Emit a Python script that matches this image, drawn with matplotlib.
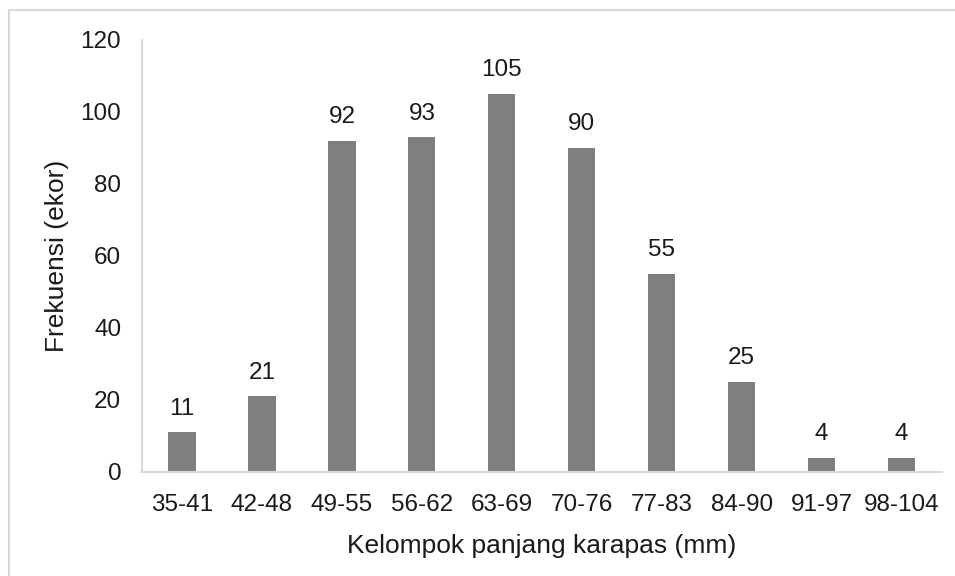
import matplotlib
matplotlib.use('Agg')
import matplotlib.pyplot as plt
from matplotlib.patches import Rectangle

kelompok = ['35-41', '42-48', '49-55', '56-62', '63-69',
            '70-76', '77-83', '84-90', '91-97', '98-104']
frekuensi = [11, 21, 92, 93, 105, 90, 55, 25, 4, 4]

plt.rcParams['font.family'] = ['Liberation Sans', 'DejaVu Sans']

fig = plt.figure(figsize=(9.55, 5.76), dpi=100)
ax = fig.add_axes([0.1487, 0.1806, 0.8373, 0.75])

# light frame round the chart area
fig.patches.append(Rectangle((9 / 955, -0.1), 1.2, 1.1 - 10 / 576,
                             transform=fig.transFigure, fill=False,
                             edgecolor='#d9d9d9', linewidth=1.5))

x = range(len(kelompok))
ax.bar(x, frekuensi, width=0.34, color='#7f7f7f')
for i, v in zip(x, frekuensi):
    ax.annotate(str(v), (i, v), xytext=(0, 9), textcoords='offset points',
                ha='center', va='bottom', fontsize=17.5, color='#1a1a1a')

ax.set_xlim(-0.5, len(kelompok) - 0.5)
ax.set_ylim(0, 120)
ax.set_yticks(range(0, 121, 20))
ax.set_xticks(list(x))
ax.set_xticklabels(kelompok)
ax.tick_params(axis='both', length=0, labelsize=17.5, colors='#1a1a1a')
ax.tick_params(axis='y', pad=15)
ax.tick_params(axis='x', pad=16)

for s in ['top', 'right']:
    ax.spines[s].set_visible(False)
for s in ['left', 'bottom']:
    ax.spines[s].set_color('#d9d9d9')
    ax.spines[s].set_linewidth(1.5)

ax.set_xlabel('Kelompok panjang karapas (mm)', fontsize=19, color='#1a1a1a', labelpad=13)
ax.set_ylabel('Frekuensi (ekor)', fontsize=19, color='#1a1a1a', labelpad=8)

fig.savefig('out.png', dpi=100)
